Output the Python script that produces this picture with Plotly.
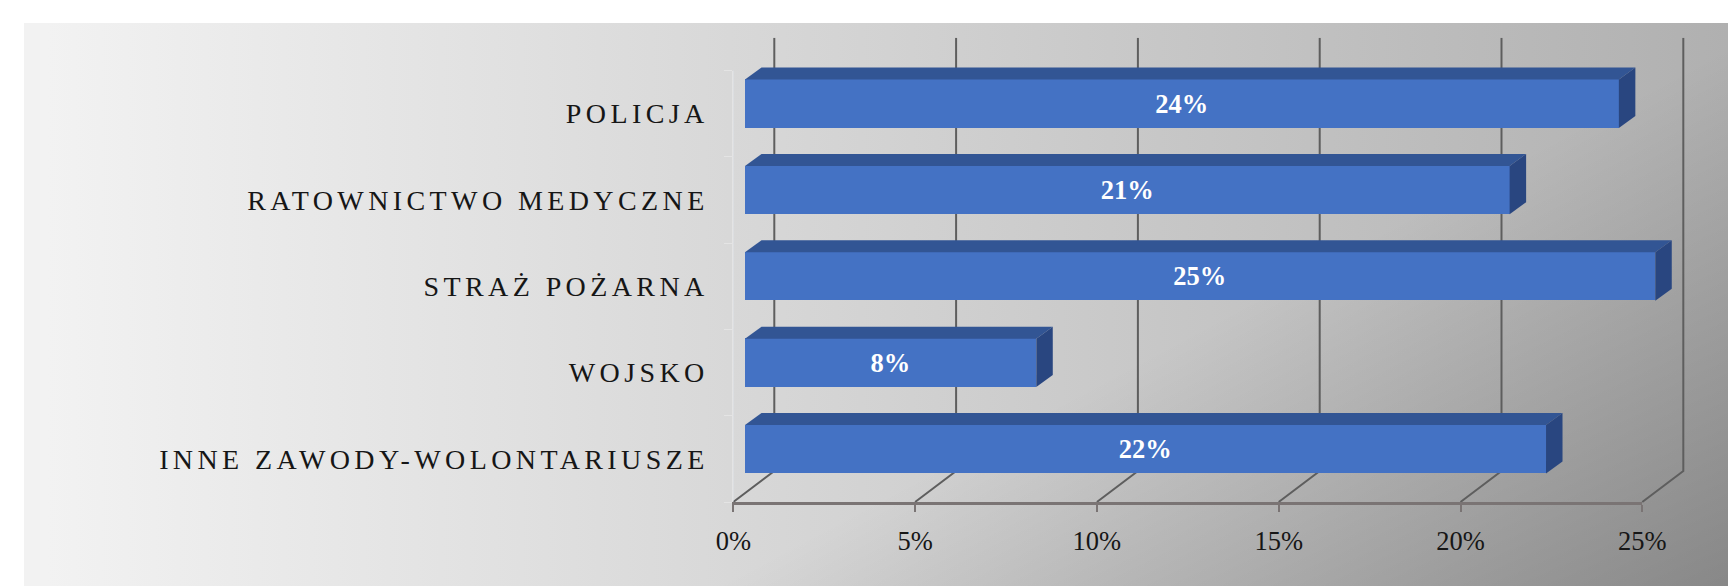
import base64
import plotly.graph_objects as go

W, H = 1728, 586

categories = ["POLICJA", "RATOWNICTWO MEDYCZNE", "STRAŻ POŻARNA", "WOJSKO", "INNE ZAWODY-WOLONTARIUSZE"]
values = [24, 21, 25, 8, 22]
x_ticks = [0, 5, 10, 15, 20, 25]
x_tick_labels = ["0%", "5%", "10%", "15%", "20%", "25%"]

SERIF = "Liberation Serif"
BLUE, BLUE_TOP, BLUE_SIDE = "#4472C4", "#325594", "#294680"
GRID = "#5e5e5e"
AXIS = "#7a7474"
FAINT = "rgba(240,240,240,0.5)"
TEXT = "#161616"

PX_PER_PCT = 36.36
BAR_PX_PER_PCT = 36.41
BAR_WIDTH = 0.56
DEPTH_X, DEPTH_Y = 16.5 / BAR_PX_PER_PCT, 12 / 86.4
FLOOR_DX, FLOOR_DY = 41 / PX_PER_PCT, 31 / 433.3


def xdom(a, b):
    return [a / W, b / W]


def ydom(top, bottom):
    return [(H - bottom) / H, (H - top) / H]


svg = f"""<svg xmlns="http://www.w3.org/2000/svg" width="{W}" height="{H}" preserveAspectRatio="none">
<defs>
<linearGradient id="g" gradientUnits="userSpaceOnUse" x1="24" y1="0" x2="1728" y2="0">
<stop offset="0" stop-color="#f2f2f2"/><stop offset="0.5" stop-color="#d2d2d2"/><stop offset="1" stop-color="#b0b0b0"/>
</linearGradient>
<linearGradient id="s" gradientUnits="userSpaceOnUse" x1="1728" y1="23" x2="1965" y2="456">
<stop offset="0" stop-color="#000" stop-opacity="0"/><stop offset="1" stop-color="#000" stop-opacity="0.23"/>
</linearGradient>
</defs><rect width="{W}" height="{H}" fill="url(#g)"/><rect width="{W}" height="{H}" fill="url(#s)"/></svg>"""
bg = "data:image/svg+xml;base64," + base64.b64encode(svg.encode()).decode()

fig = go.Figure()

# back wall lines and floor diagonals, one polyline per tick
for t in x_ticks:
    fig.add_trace(go.Scatter(x=[t, t, t - FLOOR_DX], y=[1, 0, -FLOOR_DY], mode="lines",
                             line=dict(color=GRID, width=2), hoverinfo="skip", showlegend=False,
                             xaxis="x", yaxis="y"))

# invisible trace that gives the front axes a subplot
fig.add_trace(go.Bar(y=categories, x=[0] * len(categories), orientation="h", xaxis="x2", yaxis="y2",
                     marker=dict(color="rgba(0,0,0,0)"), hoverinfo="skip", showlegend=False))

# 3-D faces of the bars
for i, v in enumerate(values):
    t, b = i - BAR_WIDTH / 2, i + BAR_WIDTH / 2
    fig.add_trace(go.Scatter(x=[0, DEPTH_X, v + DEPTH_X, v, 0], y=[t, t - DEPTH_Y, t - DEPTH_Y, t, t],
                             mode="lines", fill="toself", fillcolor=BLUE_TOP, line=dict(width=0),
                             hoverinfo="skip", showlegend=False, xaxis="x3", yaxis="y3"))
    fig.add_trace(go.Scatter(x=[v, v + DEPTH_X, v + DEPTH_X, v, v], y=[t, t - DEPTH_Y, b - DEPTH_Y, b, t],
                             mode="lines", fill="toself", fillcolor=BLUE_SIDE, line=dict(width=0),
                             hoverinfo="skip", showlegend=False, xaxis="x3", yaxis="y3"))

fig.add_trace(go.Bar(y=list(range(len(values))), x=values, orientation="h", width=BAR_WIDTH,
                     marker=dict(color=BLUE, line=dict(width=0)),
                     text=[f"{v}%" for v in values], textposition="inside", insidetextanchor="middle",
                     textangle=0, constraintext="none",
                     textfont=dict(family=SERIF, size=26.5, color="white", weight="bold"),
                     hoverinfo="skip", showlegend=False, xaxis="x3", yaxis="y3"))

x0_back, x0_front, x0_bar = 774.3, 733.3, 745.0
Y_BACK_TOP, Y_BACK_BOT = 37.7, 471.0
Y_BAR_STEP, Y_BAR_0 = 86.4, 103.7

# padded ranges so that the depth faces and diagonals stay inside their subplots
back_xr = [-2.0, 26.0]
back_yr = [-0.1, 1.0]
bar_xr = [-0.5, 26.0]
bar_yr = [4.5, -1.0]

fig.update_layout(
    width=W, height=H, margin=dict(l=0, r=0, t=0, b=0, pad=0, autoexpand=False), autosize=False,
    paper_bgcolor="white", plot_bgcolor="rgba(0,0,0,0)", bargap=0, showlegend=False,
    images=[dict(source=bg, xref="paper", yref="paper", x=24 / W, y=1 - 23 / H,
                 sizex=1 - 24 / W, sizey=1 - 23 / H, xanchor="left", yanchor="top",
                 sizing="stretch", layer="below")],
    # back wall
    xaxis=dict(domain=xdom(x0_back + back_xr[0] * PX_PER_PCT, x0_back + back_xr[1] * PX_PER_PCT), range=back_xr,
               visible=False, anchor="y"),
    yaxis=dict(domain=ydom(Y_BACK_TOP, Y_BACK_BOT + 0.1 * (Y_BACK_BOT - Y_BACK_TOP)), range=back_yr,
               visible=False, anchor="x"),
    # front axes carrying the labels
    xaxis2=dict(domain=xdom(x0_front, x0_front + 25 * PX_PER_PCT), range=[0, 25], anchor="y2",
                tickmode="array", tickvals=x_ticks, ticktext=x_tick_labels, ticks="outside", ticklen=7, tickwidth=2,
                tickcolor=AXIS, showline=True, linecolor=AXIS, linewidth=2.5, showgrid=False, zeroline=False,
                tickfont=dict(family=SERIF, size=26.5, color=TEXT), ticklabelstandoff=6),
    yaxis2=dict(domain=ydom(70.5, 502), type="category", categoryorder="array", categoryarray=categories,
                autorange=False, range=[4.5, -0.5], anchor="x2", showline=True, linecolor=FAINT, linewidth=1,
                ticks="", showgrid=False, zeroline=False, ticklabelstandoff=18,
                tickfont=dict(family=SERIF, size=28, color=TEXT),
                minor=dict(tickmode="array", tickvals=[-0.5, 0.5, 1.5, 2.5, 3.5, 4.5], ticks="outside",
                           ticklen=8, tickwidth=1, tickcolor=FAINT, showgrid=False)),
    # bars
    xaxis3=dict(domain=xdom(x0_bar + bar_xr[0] * BAR_PX_PER_PCT, x0_bar + bar_xr[1] * BAR_PX_PER_PCT), range=bar_xr,
                anchor="y3", visible=False),
    yaxis3=dict(domain=ydom(Y_BAR_0 + bar_yr[1] * Y_BAR_STEP, Y_BAR_0 + bar_yr[0] * Y_BAR_STEP), range=bar_yr,
                anchor="x3", visible=False),
)

post = """
document.body.style.margin = '0';
document.querySelectorAll('.ytick text, .y2tick text').forEach(function (t) { t.style.letterSpacing = '4.4px'; });
"""
fig.write_html("out.html", post_script=post, config=dict(displayModeBar=False, responsive=False))
